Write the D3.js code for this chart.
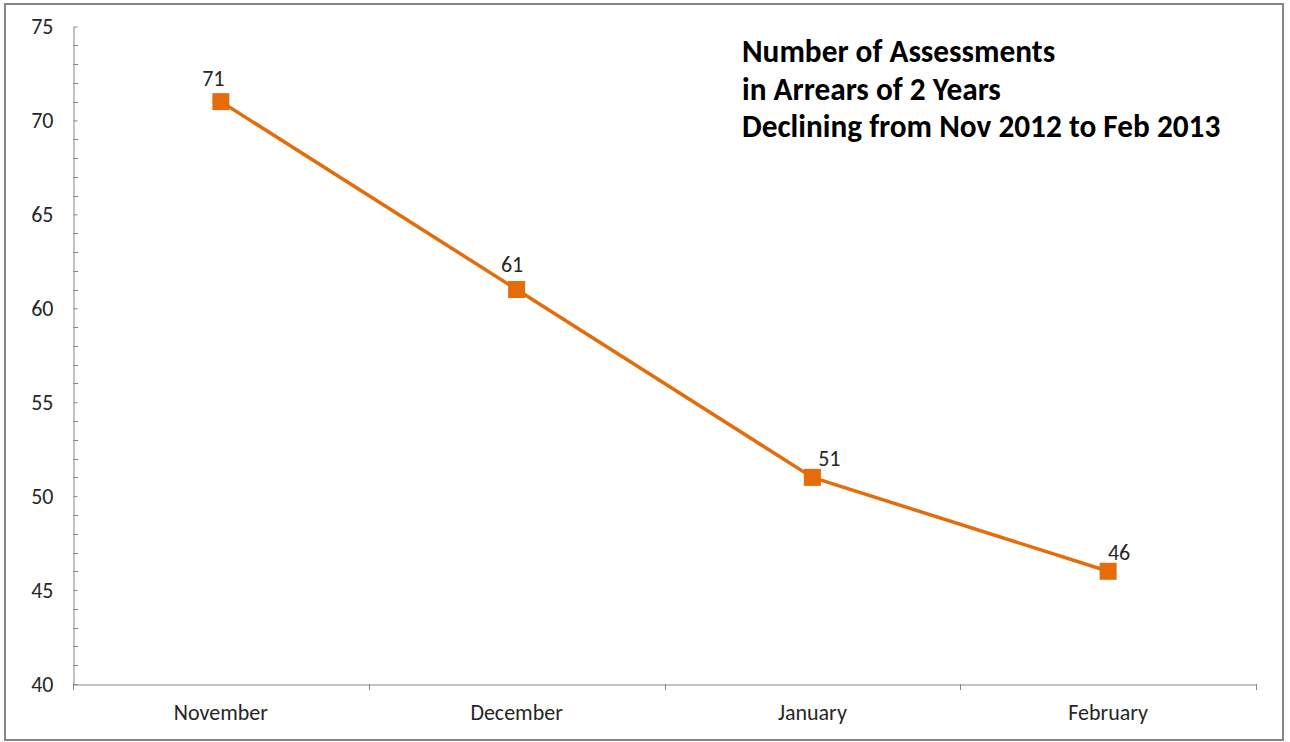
<!DOCTYPE html>
<html>
<head>
<meta charset="utf-8">
<script src="https://cdn.jsdelivr.net/npm/d3@7/dist/d3.min.js"></script>
<style>
  html, body { margin: 0; padding: 0; background: #fff; }
  svg { display: block; }
</style>
</head>
<body>
<svg id="chart" width="1290" height="742"></svg>
<script>
// Monthly counts of assessments two years in arrears
const months = ["November", "December", "January", "February"];
const assessments = [71, 61, 51, 46];
const yTicks = [40, 45, 50, 55, 60, 65, 70, 75];
const titleLines = [
  "Number of Assessments",
  "in Arrears of 2 Years",
  "Declining from Nov 2012 to Feb 2013"
];

const plot = { left: 73, right: 1256, top: 26.5, bottom: 684 };
const orange = "#E46C0A";
const axisGrey = "#868686";
const textColor = "#262626";
const font = "Carlito, Calibri, 'Open Sans', sans-serif";
const labelSize = "22px";

const svg = d3.select("#chart");

// outer chart frame
svg.append("rect")
  .attr("x", 5).attr("y", 4)
  .attr("width", 1278).attr("height", 736)
  .attr("fill", "#fff")
  .attr("stroke", axisGrey)
  .attr("stroke-width", 2);

const x = d3.scaleBand().domain(months).range([plot.left, plot.right]).padding(0);
const y = d3.scaleLinear().domain([40, 75]).range([plot.bottom, plot.top]);

// minor ticks every unit, on the inside of the value axis
const minor = d3.range(40, 76).filter(v => v % 5 !== 0);
svg.append("g")
  .selectAll("line")
  .data(minor)
  .join("line")
  .attr("x1", plot.left).attr("x2", plot.left + 5)
  .attr("y1", d => Math.round(y(d)) + 0.5).attr("y2", d => Math.round(y(d)) + 0.5)
  .attr("stroke", axisGrey).attr("stroke-width", 1);

// value axis
const yAxis = svg.append("g")
  .attr("transform", `translate(${plot.left + 0.5},0)`)
  .call(d3.axisLeft(y).tickValues(yTicks).tickSize(6).tickSizeOuter(0).tickPadding(14));
yAxis.select(".domain").attr("stroke", axisGrey);
yAxis.selectAll(".tick line").attr("stroke", axisGrey).attr("x2", 4);
yAxis.selectAll(".tick text")
  .attr("fill", textColor)
  .style("font-family", font)
  .style("font-size", labelSize);

// category axis: labels centred in bands, ticks on band boundaries
const xAxis = svg.append("g")
  .attr("transform", `translate(0,${plot.bottom + 0.5})`)
  .call(d3.axisBottom(x).tickSize(0).tickSizeOuter(0).tickPadding(20));
xAxis.select(".domain").attr("stroke", axisGrey);
xAxis.selectAll(".tick text")
  .attr("fill", textColor)
  .style("font-family", font)
  .style("font-size", labelSize);

const bounds = months.map(m => x(m)).concat([x.range()[1]]);
svg.append("g")
  .selectAll("line")
  .data(bounds)
  .join("line")
  .attr("x1", d => Math.round(d) + 0.5).attr("x2", d => Math.round(d) + 0.5)
  .attr("y1", plot.bottom).attr("y2", plot.bottom + 6)
  .attr("stroke", axisGrey).attr("stroke-width", 1);

const pts = months.map((m, i) => ({ m, v: assessments[i] }));
const cx = d => x(d.m) + x.bandwidth() / 2;

// series line
svg.append("path")
  .datum(pts)
  .attr("fill", "none")
  .attr("stroke", orange)
  .attr("stroke-width", 3.5)
  .attr("stroke-linejoin", "round")
  .attr("d", d3.line().x(cx).y(d => y(d.v)));

// square markers
const ms = 17;
svg.append("g")
  .selectAll("rect")
  .data(pts)
  .join("rect")
  .attr("x", d => cx(d) - ms / 2)
  .attr("y", d => y(d.v) - ms / 2)
  .attr("width", ms).attr("height", ms)
  .attr("fill", orange);

// value labels, nudged clear of the line
const labelShift = [[-7.5, -16], [-4.5, -17.5], [17, -11], [11, -11]];
svg.append("g")
  .selectAll("text")
  .data(pts)
  .join("text")
  .attr("x", (d, i) => cx(d) + labelShift[i][0])
  .attr("y", (d, i) => y(d.v) + labelShift[i][1])
  .attr("text-anchor", "middle")
  .attr("fill", textColor)
  .style("font-family", font)
  .style("font-size", labelSize)
  .text(d => d.v);

// chart title
svg.append("text")
  .attr("x", 742)
  .attr("y", 62)
  .attr("fill", "#000")
  .style("font-family", font)
  .style("font-weight", "bold")
  .style("font-size", "31.3px")
  .selectAll("tspan")
  .data(titleLines)
  .join("tspan")
  .attr("x", 742)
  .attr("dy", (d, i) => i === 0 ? 0 : 37.5)
  .text(d => d);
</script>
</body>
</html>
